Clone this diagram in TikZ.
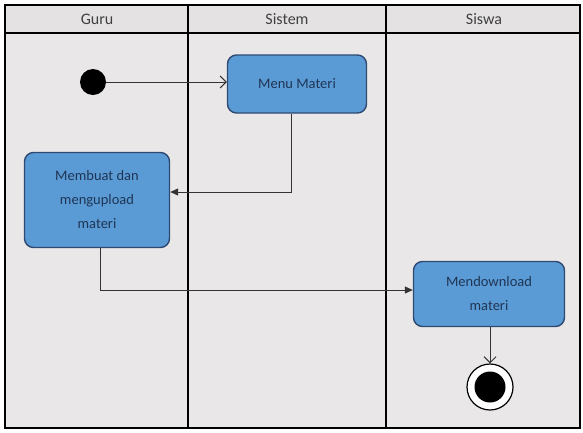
\documentclass[tikz,border=0pt]{standalone}
\usepackage{fontspec}
\setmainfont{Carlito}
\usetikzlibrary{positioning, arrows.meta}
\definecolor{laneback}{HTML}{E9E7E7}
\definecolor{headback}{HTML}{E4E2E2}
\definecolor{actfill}{HTML}{5B9BD5}
\definecolor{actline}{HTML}{2E4A72}
\definecolor{acttext}{HTML}{1F3555}

\begin{document}
\begin{tikzpicture}
                      [x=1pt, y=-1pt, text centered,
                       activity/.style={draw=actline, line width=1.4pt, fill=actfill, rounded corners=9pt,
                                        text=acttext, align=center, font=\fontsize{14.5}{24}\selectfont, inner sep=0pt},
                       lane/.style={line width=2pt, black},
                       head/.style={text=black!75, font=\fontsize{16}{18}\selectfont}]
                      \useasboundingbox (0,0) rectangle (583,432);
                      % lanes %
                      \fill[laneback] (5,5) rectangle (580,428);
                      \fill[headback] (5,5) rectangle (580,33);
                      \draw[lane] (5,33) -- (580,33);
                      \draw[lane] (188,5) -- (188,428);
                      \draw[lane] (386,5) -- (386,428);
                      \draw[lane] (5,5) rectangle (580,428);
                      \node[head] (guru) at (97,19) {Guru};
                      \node[head] (sistem) at (287,19) {Sistem};
                      \node[head] (siswa) at (484,19) {Siswa};

                      % nodes %
                      \node[circle, fill=black, minimum size=26pt, inner sep=0pt] (start) at (93,82) {};
                      \node[activity, minimum width=139pt, minimum height=58pt] (menu) at (297,84) {Menu Materi};
                      \node[activity, minimum width=145pt, minimum height=95pt] (buat) at (97,200) {Membuat dan\\mengupload\\materi};
                      \node[activity, minimum width=151pt, minimum height=65pt] (unduh) at (489,294) {Mendownload\\materi};
                      \node[circle, draw=black, fill=white, line width=1.2pt, minimum size=46pt, inner sep=0pt] (akhir) at (490,387) {};
                      \node[circle, fill=black, minimum size=31pt, inner sep=0pt] at (akhir) {};

                      % edges %
                      \draw[-{Straight Barb[length=6pt, width=12pt]}, line width=1pt, black!80] (start) -- (menu.west |- start);
                      \draw[-{Triangle[length=8pt, width=7pt]}, line width=1pt, black!80] ([xshift=-6pt]menu.south) |- ([yshift=8pt]buat.east);
                      \draw[-{Triangle[length=8pt, width=7pt]}, line width=1pt, black!80] ([xshift=3pt]buat.south) |- ([yshift=4pt]unduh.west);
                      \draw[-{Straight Barb[length=6pt, width=12pt]}, line width=1pt, black!80] (unduh.south -| akhir) -- (akhir.north);
                    \end{tikzpicture}
\end{document}
